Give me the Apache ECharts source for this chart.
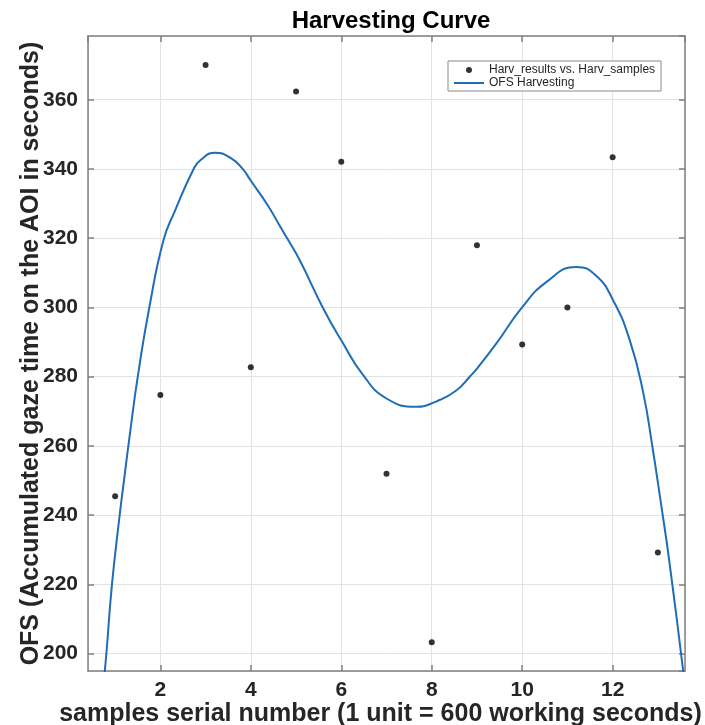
<!DOCTYPE html>
<html>
<head>
<meta charset="utf-8">
<script src="https://cdn.jsdelivr.net/npm/echarts@6/dist/echarts.min.js"></script>
<style>html,body{margin:0;padding:0;background:#fff}#c{width:705px;height:725px}</style>
</head>
<body>
<div id="c"></div>
<script>
// Data
const sampleX = [1, 2, 3, 4, 5, 6, 7, 8, 9, 10, 11, 12, 13];
const sampleY = [245.5, 274.7, 370.0, 282.7, 362.4, 342.1, 252.0, 203.3, 318.0, 289.3, 300.0, 343.4, 229.2];
const curveX = [0.75, 0.806, 0.93, 1.10, 1.195, 1.337, 1.50, 1.756, 2.07, 2.32, 2.735, 2.89, 3.21, 3.56, 3.82, 3.99, 4.37, 4.63, 4.82, 5.08, 5.59, 6.00, 6.48, 7.00, 7.66, 8.00, 8.55, 8.84, 9.00, 9.43, 9.98, 10.54, 11.20, 11.63, 12.01, 12.38, 12.68, 12.88, 13.08, 13.25, 13.56, 13.60];
const curveY = [192, 200, 220, 240, 250, 264.5, 280, 300, 319.5, 327.8, 340, 342.6, 344.7, 343.1, 340, 336.8, 329.6, 323.8, 319.6, 313.7, 300, 290.5, 280.5, 273.7, 271.3, 272.3, 276.1, 280, 282.3, 289.6, 299.7, 307.4, 311.7, 309.2, 302.1, 290.5, 275.1, 259.7, 242.4, 227.0, 195, 190];
const titleText = 'Harvesting Curve';
const xName = 'samples serial number (1 unit = 600 working seconds)';
const yName = 'OFS (Accumulated gaze time on the AOI in seconds)';
const scatterName = 'Harv_results vs. Harv_samples';
const lineName = 'OFS Harvesting';

const FONT = "'Liberation Sans', Arial, Helvetica, sans-serif";
const TXT = '#262626';
const AX = '#808080';

const chart = echarts.init(document.getElementById('c'), null, {renderer: 'canvas'});
const xBase = {type: 'value', min: 0.4, max: 13.6, splitNumber: 6};
const yBase = {type: 'value', min: 195, max: 378.4, splitNumber: 9};
chart.setOption({
  backgroundColor: '#fff',
  animation: false,
  title: {
    text: titleText, left: 386, top: 4, textAlign: 'center',
    textStyle: {fontFamily: FONT, fontSize: 24, fontWeight: 'bold', color: '#000'}
  },
  legend: {
    left: 448, top: 61, orient: 'vertical',
    padding: [3, 6, 2, 5], itemGap: 1, itemWidth: 30, itemHeight: 6,
    borderColor: '#8a8a8a', borderWidth: 1, backgroundColor: '#fff',
    textStyle: {fontFamily: FONT, fontSize: 12, color: TXT},
    data: [{name: scatterName, icon: 'circle'}, {name: lineName, itemStyle: {opacity: 0}}]
  },
  grid: {left: 88, right: 20, top: 36, bottom: 54, containLabel: false, outerBoundsMode: 'none'},
  xAxis: [
    Object.assign({}, xBase, {
      position: 'bottom',
      name: xName, nameLocation: 'middle', nameGap: 31, nameMoveOverlap: false,
      nameTextStyle: {fontFamily: FONT, fontSize: 25, fontWeight: 'bold', color: TXT, padding: [0, 12, 0, 0]},
      axisLine: {show: true, onZero: false, lineStyle: {color: AX, width: 1.5}},
      axisTick: {show: true, inside: true, length: 6, lineStyle: {color: AX, width: 1.5}},
      axisLabel: {show: true, margin: 9, showMinLabel: false, showMaxLabel: false,
        fontFamily: FONT, fontSize: 21, fontWeight: 'bold', color: TXT},
      splitLine: {show: true, lineStyle: {color: '#e3e3e3', width: 1}}
    }),
    Object.assign({}, xBase, {
      position: 'top',
      axisLine: {show: true, onZero: false, lineStyle: {color: AX, width: 1.5}},
      axisTick: {show: true, inside: true, length: 6, lineStyle: {color: AX, width: 1.5}},
      axisLabel: {show: false},
      splitLine: {show: false}
    })
  ],
  yAxis: [
    Object.assign({}, yBase, {
      position: 'left',
      name: yName, nameLocation: 'middle', nameGap: 44, nameRotate: 90, nameMoveOverlap: false,
      nameTextStyle: {fontFamily: FONT, fontSize: 25, fontWeight: 'bold', color: TXT},
      axisLine: {show: true, onZero: false, lineStyle: {color: AX, width: 1.5}},
      axisTick: {show: true, inside: true, length: 6, lineStyle: {color: AX, width: 1.5}},
      axisLabel: {show: true, margin: 10, showMinLabel: false, showMaxLabel: false,
        fontFamily: FONT, fontSize: 21, fontWeight: 'bold', color: TXT},
      splitLine: {show: true, lineStyle: {color: '#e3e3e3', width: 1}}
    }),
    Object.assign({}, yBase, {
      position: 'right',
      axisLine: {show: true, onZero: false, lineStyle: {color: AX, width: 1.5}},
      axisTick: {show: true, inside: true, length: 6, lineStyle: {color: AX, width: 1.5}},
      axisLabel: {show: false},
      splitLine: {show: false}
    })
  ],
  series: [
    {
      name: scatterName, type: 'scatter', xAxisIndex: 0, yAxisIndex: 0,
      symbol: 'circle', symbolSize: 6,
      itemStyle: {color: '#000'},
      data: sampleX.map((x, i) => [x, sampleY[i]]),
      z: 3
    },
    {
      name: lineName, type: 'line', xAxisIndex: 0, yAxisIndex: 0,
      showSymbol: false, symbol: 'none', smooth: 0.5, clip: true,
      lineStyle: {color: '#1f6db5', width: 2},
      itemStyle: {color: '#1f6db5'},
      data: curveX.map((x, i) => [x, curveY[i]]),
      z: 2
    }
  ]
});
</script>
</body>
</html>
